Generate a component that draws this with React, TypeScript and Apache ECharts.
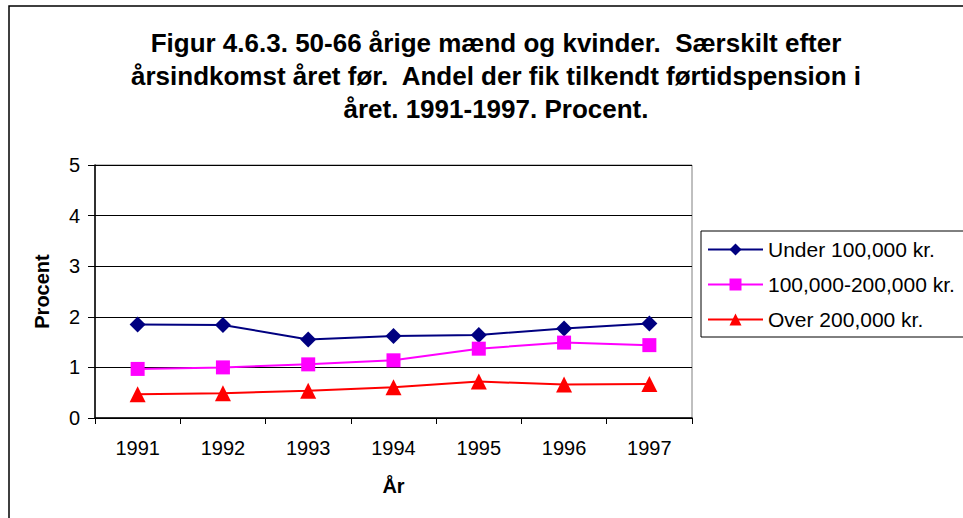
import React, { useEffect, useRef } from "react";
import * as echarts from "echarts";

const years = ["1991", "1992", "1993", "1994", "1995", "1996", "1997"];
const under100 = [1.85, 1.84, 1.55, 1.62, 1.64, 1.77, 1.87];
const mid100to200 = [0.97, 1.0, 1.06, 1.14, 1.37, 1.49, 1.44];
const over200 = [0.47, 0.49, 0.54, 0.61, 0.72, 0.66, 0.67];
const seriesNames = ["Under 100,000 kr.", "100,000-200,000 kr.", "Over 200,000 kr."];
const titleLines = [
  "Figur 4.6.3. 50-66 årige mænd og kvinder.  Særskilt efter",
  "årsindkomst året før.  Andel der fik tilkendt førtidspension i",
  "året. 1991-1997. Procent.",
];

const FONT = "Arial, 'Liberation Sans', sans-serif";

export default function App() {
  const ref = useRef<HTMLDivElement>(null);
  useEffect(() => {
    if (!ref.current) return;
    const chart = echarts.init(ref.current, null, { renderer: "svg" });
    chart.setOption({
      animation: false,
      backgroundColor: "#ffffff",
      textStyle: { fontFamily: FONT },
      title: {
        text: titleLines.join("\n"),
        left: 491,
        top: 21,
        textAlign: "center",
        textStyle: {
          fontFamily: FONT,
          fontSize: 26,
          fontWeight: "bold",
          color: "#000",
          lineHeight: 33,
        },
      },
      graphic: [
        {
          type: "rect",
          shape: { x: 9, y: 6, width: 1000, height: 600 },
          style: { fill: "none", stroke: "#000", lineWidth: 1.5 },
          silent: true,
          z: -10,
        },
      ],
      legend: {
        orient: "vertical",
        left: 701,
        top: 231,
        width: 300,
        padding: [8, 40, 7, 6],
        borderColor: "#000",
        borderWidth: 1,
        itemWidth: 55,
        itemHeight: 15,
        itemGap: 14,
        data: seriesNames,
        textStyle: { fontFamily: FONT, fontSize: 21, color: "#000", lineHeight: 20 },
      },
      grid: { left: 95, top: 165, width: 597, height: 253, show: true, borderColor: "#808080", borderWidth: 1 },
      xAxis: {
        type: "category",
        data: years,
        boundaryGap: true,
        name: "År",
        nameLocation: "middle",
        nameGap: 58,
        nameTextStyle: { fontFamily: FONT, fontSize: 20, fontWeight: "bold", color: "#000" },
        axisLine: { lineStyle: { color: "#000", width: 1.5 } },
        axisTick: { show: true, length: 6, lineStyle: { color: "#000" } },
        axisLabel: { fontFamily: FONT, fontSize: 20, color: "#000", margin: 20 },
        splitLine: { show: false },
      },
      yAxis: {
        type: "value",
        min: 0,
        max: 5,
        interval: 1,
        name: "Procent",
        nameLocation: "middle",
        nameGap: 43,
        nameTextStyle: { fontFamily: FONT, fontSize: 20, fontWeight: "bold", color: "#000" },
        axisLine: { show: true, lineStyle: { color: "#000", width: 1.5 } },
        axisTick: { show: true, length: 7, lineStyle: { color: "#000" } },
        axisLabel: { fontFamily: FONT, fontSize: 20, color: "#000", margin: 15 },
        splitLine: { show: true, lineStyle: { color: "#000", width: 1 } },
      },
      series: [
        {
          name: seriesNames[0],
          type: "line",
          data: under100,
          symbol: "diamond",
          symbolSize: 16,
          color: "#000080",
          lineStyle: { width: 2, color: "#000080" },
          itemStyle: { color: "#000080" },
        },
        {
          name: seriesNames[1],
          type: "line",
          data: mid100to200,
          symbol: "rect",
          symbolSize: 14,
          color: "#ff00ff",
          lineStyle: { width: 2, color: "#ff00ff" },
          itemStyle: { color: "#ff00ff" },
        },
        {
          name: seriesNames[2],
          type: "line",
          data: over200,
          symbol: "triangle",
          symbolSize: 16,
          color: "#ff0000",
          lineStyle: { width: 2, color: "#ff0000" },
          itemStyle: { color: "#ff0000" },
        },
      ],
    });
    return () => chart.dispose();
  }, []);
  return (
    <div
      ref={ref}
      style={{ position: "fixed", left: 0, top: 0, width: 963, height: 518, background: "#fff" }}
    />
  );
}
